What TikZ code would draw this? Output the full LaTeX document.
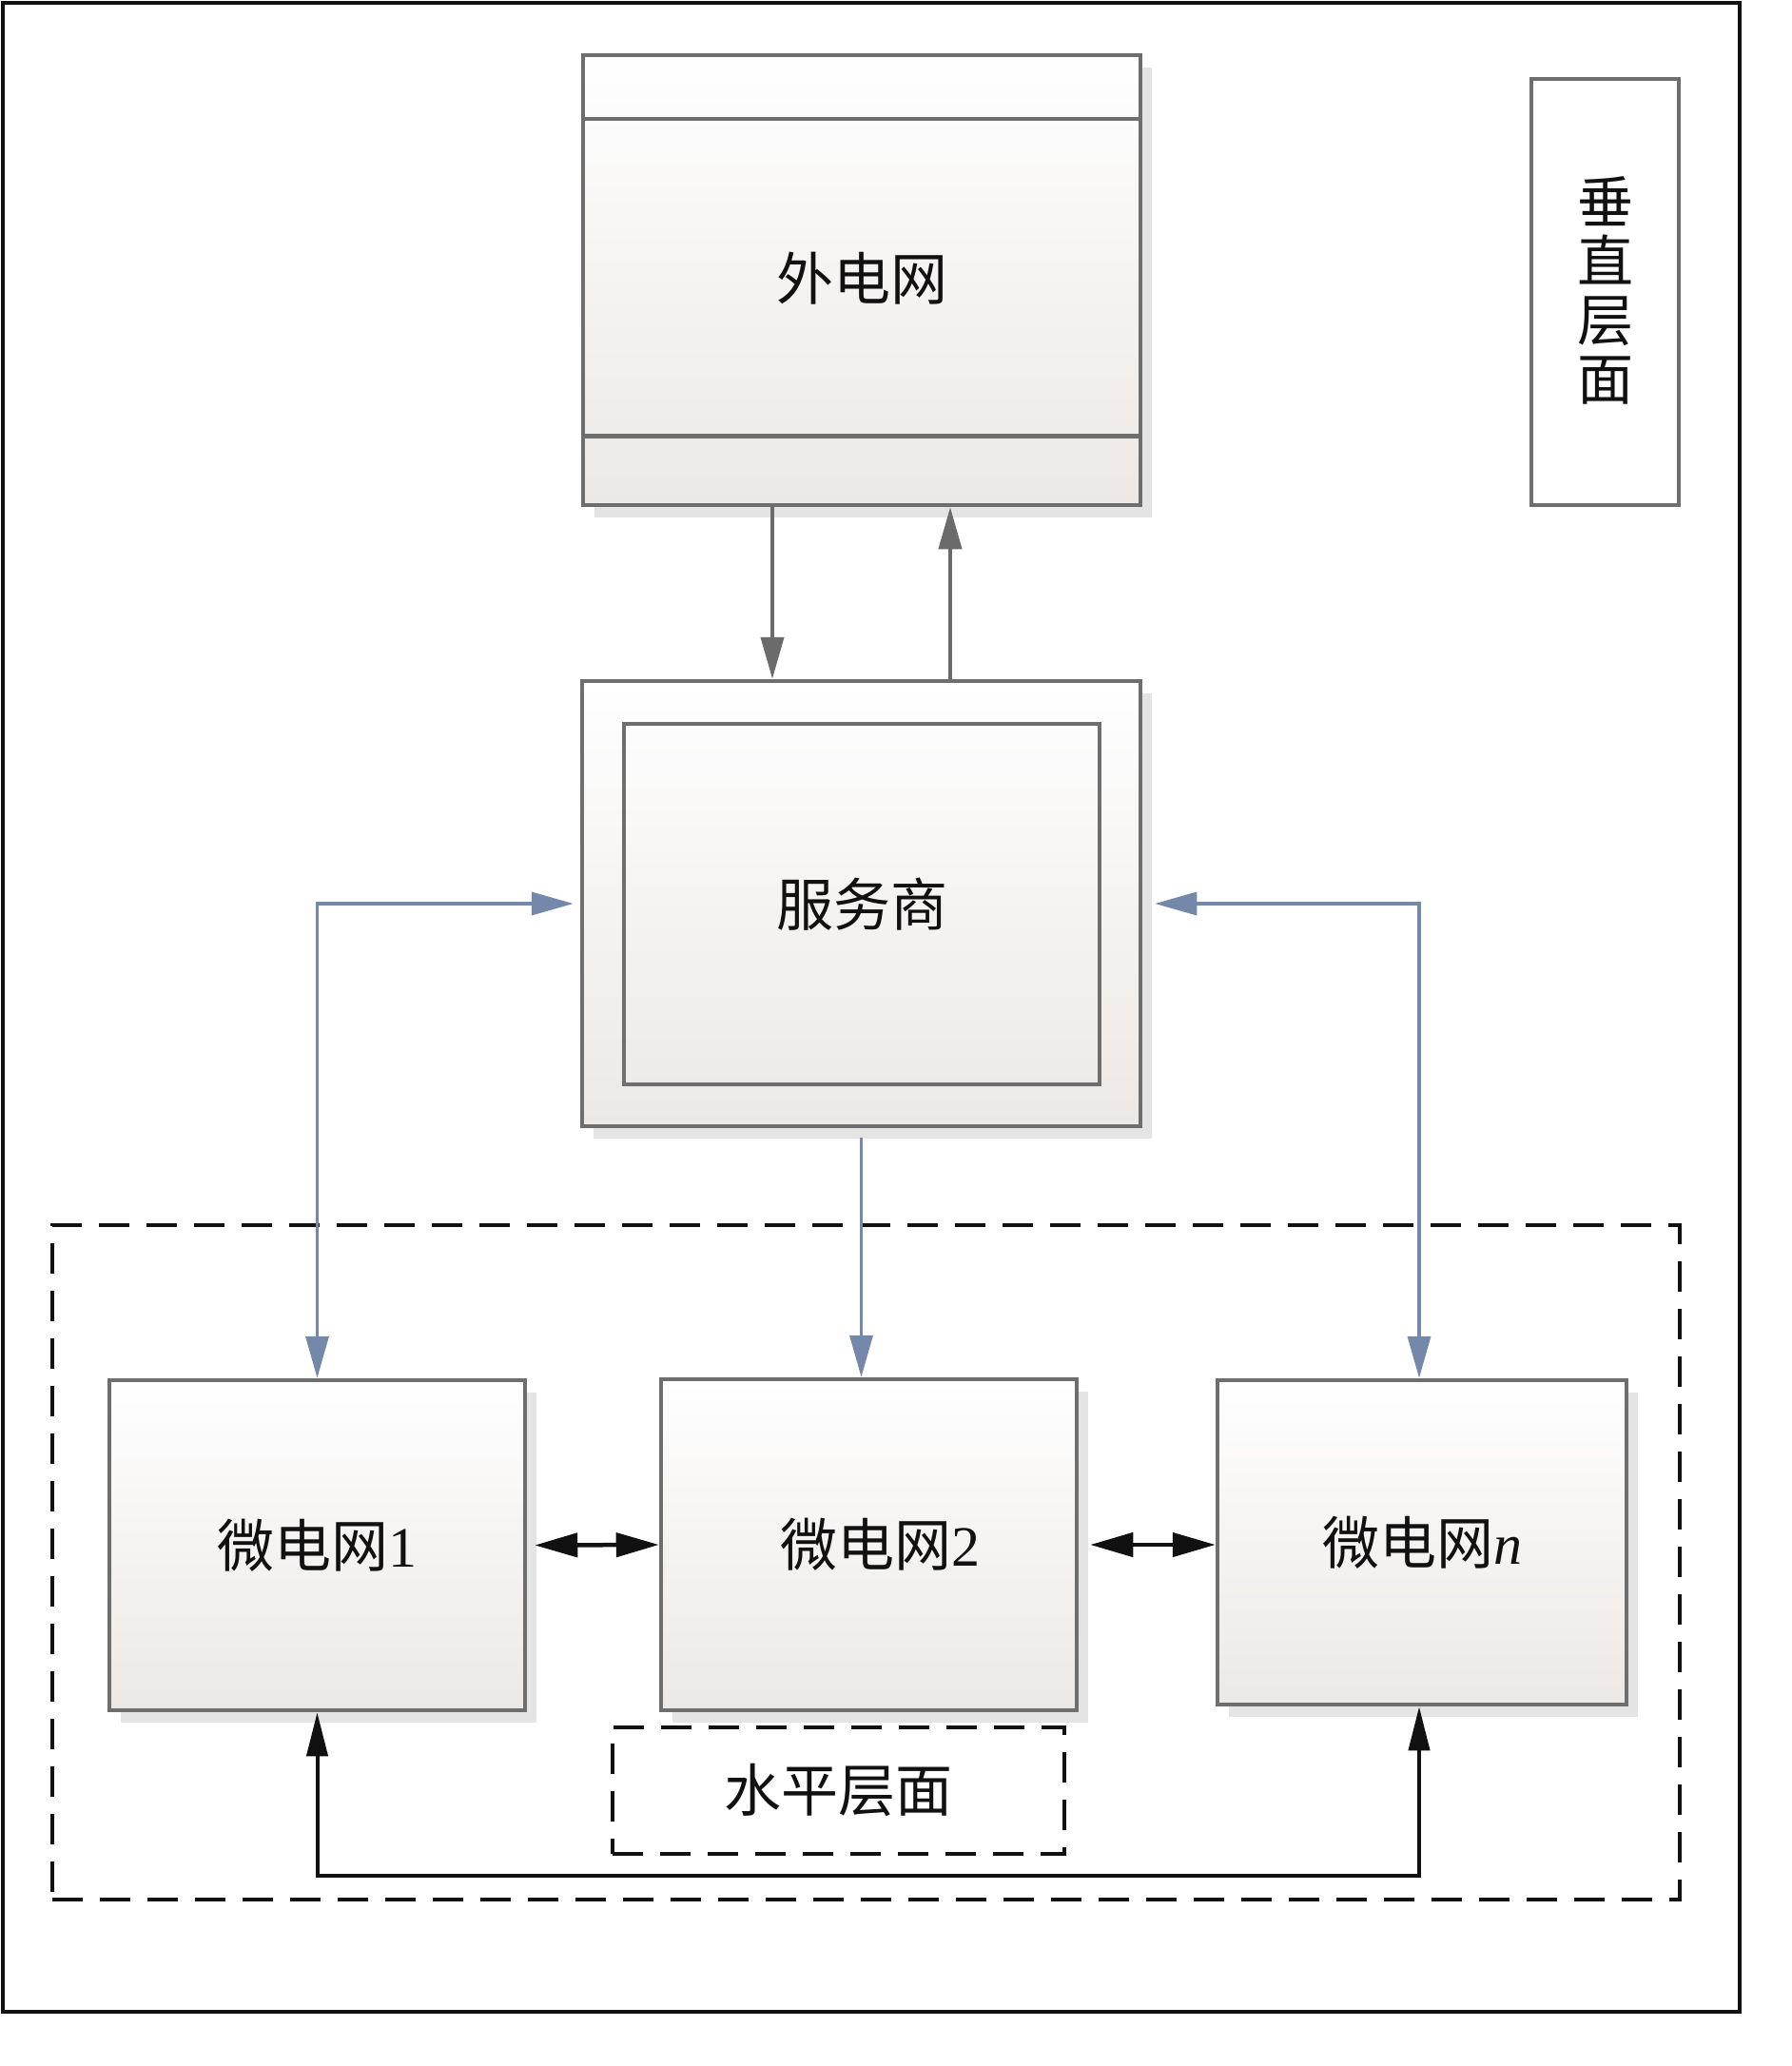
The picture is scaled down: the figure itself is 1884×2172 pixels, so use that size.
\documentclass[tikz,border=0pt]{standalone}
\usepackage{fontspec}
\newfontfamily\cjk{Noto Sans CJK SC}
\newfontfamily\tnr{Liberation Serif}
\usetikzlibrary{arrows.meta,shadows,calc}
\definecolor{boxline}{HTML}{6E6E6E}
\definecolor{boxbot}{HTML}{ECE8E5}
\definecolor{shadowc}{HTML}{E4E4E4}
\definecolor{bluec}{HTML}{7489AA}
\definecolor{greyc}{HTML}{6B6B6B}
\definecolor{blackc}{HTML}{111111}
\tikzset{
  gbox/.style={draw=boxline, line width=4.5pt, top color=white, bottom color=boxbot,
    rectangle, inner sep=0pt,
    drop shadow={shadow xshift=12pt, shadow yshift=-13pt, fill=shadowc, opacity=1}},
  plainbox/.style={draw=boxline, line width=4.5pt, fill=white, rectangle, inner sep=0pt},
  inbox/.style={draw=boxline, line width=4.5pt, rectangle, inner sep=0pt},
  lbl/.style={font=\cjk\fontsize{60pt}{60pt}\selectfont, text=blackc},
  dashbox/.style={draw=blackc, line width=4pt, dash pattern=on 32pt off 18pt, rectangle, inner sep=0pt},
  greyarr/.style={draw=greyc, line width=4pt, -{Triangle[length=44pt,width=24pt]}, greyc},
  bluearr/.style={draw=bluec, line width=3.5pt, bluec},
  bluetip/.style={>={Triangle[length=44pt,width=24pt]}},
  blackarr/.style={draw=blackc, line width=4.5pt, blackc, {Triangle[length=45pt,width=25pt]}-{Triangle[length=45pt,width=25pt]}},
  busarr/.style={draw=blackc, line width=4pt, blackc, {Triangle[length=46pt,width=22pt]}-{Triangle[length=46pt,width=22pt]}},
}
\begin{document}
\begin{tikzpicture}[x=1pt,y=-1pt]
\useasboundingbox (0,0) rectangle (1884,2172);
\fill[white] (0,0) rectangle (1884,2172);
% outer frame
\node[draw=blackc, line width=3.5pt, rectangle, inner sep=0pt, minimum width=1826pt, minimum height=2112pt] (frame) at (916,1059) {};

% vertical layer label
\node[plainbox, minimum width=155pt, minimum height=448pt] (vlayer) at (1687.5,307) {};
\node[font=\cjk\fontsize{59pt}{62pt}\selectfont, text=blackc, align=center, inner sep=0pt] (vtext) at (1687.5,305) {垂\\直\\层\\面};

% horizontal layer dashed region
\node[dashbox, minimum width=1711pt, minimum height=709pt] (hregion) at (910.5,1642.5) {};

% external grid
\node[gbox, minimum width=586pt, minimum height=473pt] (ext) at (906,294.5) {};
\draw[draw=boxline, line width=4.5pt] ($(ext.north west)+(0,69)$) -- ($(ext.north east)+(0,69)$);
\draw[draw=boxline, line width=4.5pt] ($(ext.south west)+(0,-75)$) -- ($(ext.south east)+(0,-75)$);
\node[lbl] (exttext) at (906,293) {外电网};

% service provider
\node[gbox, minimum width=587pt, minimum height=468pt] (svc) at (905.5,950) {};
\node[inbox, minimum width=500pt, minimum height=379pt, lbl] (svcin) at (906,950.5) {服务商};

% microgrids
\node[gbox, minimum width=437pt, minimum height=347pt, lbl] (mg1) at (333.5,1624.5) {微电网{\tnr 1}};
\node[gbox, minimum width=437pt, minimum height=348pt] (mg2) at (913.5,1624) {};
\node[lbl] (mg2text) at (925,1624) {微电网{\tnr 2}};
\node[gbox, minimum width=430pt, minimum height=341pt, lbl] (mgn) at (1495,1621.5) {微电网{\tnr\itshape n}};

% horizontal layer label
\node[dashbox, minimum width=475pt, minimum height=133pt, lbl] (hlayer) at (881.5,1882.5) {水平层面};

% connectors
\coordinate (dnx) at (812,0);
\coordinate (upx) at (999,0);
\coordinate (busy) at (0,1972);
\draw[greyarr] (ext.south -| dnx) -- (svc.north -| dnx);
\draw[greyarr] (svc.north -| upx) -- (ext.south -| upx);

\draw[bluearr, bluetip, <->] ([xshift=-7pt]svc.west) -| (mg1.north);
\draw[bluearr, bluetip, <->] ([xshift=13pt]svc.east) -| ([xshift=-3pt]mgn.north);
\draw[bluearr, bluetip, ->] ([yshift=-10pt]svc.south) -- (svc.south |- mg2.north);

\draw[blackarr] ([xshift=8pt]mg1.east) -- (mg2.west);
\draw[blackarr] ([xshift=12pt]mg2.east) -- (mgn.west |- mg2.east);

\draw[busarr] (mg1.south) -- (mg1.south |- busy) -- ([xshift=-3pt]mgn.south |- busy) -- ([xshift=-3pt]mgn.south);
\end{tikzpicture}
\end{document}
